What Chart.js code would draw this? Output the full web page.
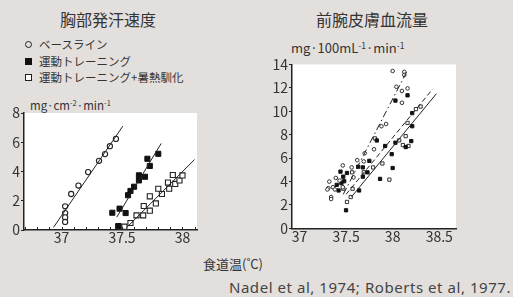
<!DOCTYPE html>
<html lang="ja">
<head>
<meta charset="UTF-8">
<title>食道温と発汗・血流</title>
<script src="https://cdn.jsdelivr.net/npm/chart.js@4.4.1/dist/chart.umd.min.js"></script>
<style>
  body { margin:0; width:513px; height:297px; background:#e3dfdc; position:relative; overflow:hidden;
         font-family:"Noto Sans CJK JP","Noto Sans",sans-serif; color:#333; }
  .t { position:absolute; white-space:nowrap; }
  canvas { position:absolute; }
  .lg { position:absolute; left:25px; font-size:11.5px; line-height:16px; display:flex; align-items:center; }
  .mk { display:inline-block; box-sizing:border-box; margin-right:7px; }
  sup { font-size:0.65em; vertical-align:0.5em; line-height:0; }
</style>
</head>
<body>
<div class="t" style="left:60px;top:9px;font-size:16px;line-height:20px;">胸部発汗速度</div>
<div class="t" style="left:316px;top:9px;font-size:16px;line-height:20px;">前腕皮膚血流量</div>

<div class="lg" style="top:36px;"><span class="mk" style="width:7px;height:7px;border:1.3px solid #222;border-radius:50%;"></span>ベースライン</div>
<div class="lg" style="top:53px;"><span class="mk" style="width:7px;height:7px;background:#111;"></span>運動トレーニング</div>
<div class="lg" style="top:69px;"><span class="mk" style="width:7px;height:7px;border:1.3px solid #222;background:#fff;"></span>運動トレーニング+暑熱馴化</div>

<div class="t" style="left:30px;top:97px;font-size:11.5px;line-height:16px;">mg·cm<sup>-2</sup>·min<sup>-1</sup></div>
<div class="t" style="left:291px;top:39px;font-size:13px;line-height:18px;">mg·100mL<sup>-1</sup>·min<sup>-1</sup></div>

<canvas id="sweat" width="205" height="150" style="left:0;top:100px;width:205px;height:150px;"></canvas>
<canvas id="flow" width="215" height="195" style="left:255px;top:55px;width:215px;height:195px;"></canvas>

<div class="t" style="left:203px;top:255px;font-size:13px;line-height:18px;">食道温(˚C)</div>
<div class="t" style="right:2px;top:277px;font-size:15px;line-height:20px;letter-spacing:0.55px;font-family:'Noto Sans',sans-serif;color:#444;">Nadel et al, 1974; Roberts et al, 1977.</div>

<script>
// 胸部発汗速度 (x: 食道温, y: mg/cm2/min)
let sweatBaseX = [37.03, 37.03, 37.03, 37.03, 37.08, 37.14, 37.22, 37.31, 37.36, 37.40, 37.45];
let sweatBaseY = [1.62, 1.16, 0.86, 0.55, 2.46, 3.04, 3.96, 4.73, 5.19, 5.73, 6.23];
let sweatTrainX = [37.42, 37.48, 37.53, 37.47, 37.55, 37.57, 37.60, 37.64, 37.64, 37.69, 37.71, 37.73, 37.80];
let sweatTrainY = [1.18, 1.46, 1.16, 0.27, 2.38, 2.67, 2.96, 3.74, 3.39, 3.64, 4.87, 4.38, 5.21];
let sweatHeatX = [37.47, 37.52, 37.57, 37.62, 37.675, 37.68, 37.73, 37.73, 37.78, 37.80, 37.83, 37.88, 37.89, 37.92, 37.94, 37.975, 38.00];
let sweatHeatY = [0.23, 0.23, 0.48, 1.0, 1.0, 1.64, 1.32, 2.3, 1.82, 2.82, 2.46, 3.24, 2.82, 3.76, 3.15, 3.39, 3.73];
// 回帰直線の両端
let sweatBaseLine = [[36.934, 0.18], [37.507, 7.1]];
let sweatTrainLine = [[37.457, 0.88], [37.824, 5.92]];
let sweatHeatLine = [[37.54, 0.18], [38.10, 4.82]];
let sweatXLabels = [37, 37.5, 38];
let sweatYTicks = [0, 2, 4, 6, 8];

// 前腕皮膚血流量 (x: 食道温, y: mL/100mL/min)
let flowBaseX = [38.00, 38.125, 38.125, 38.04, 38.10, 38.16, 38.10, 37.88, 37.93, 37.80, 37.70, 37.62, 37.69, 37.465,
  37.56, 37.39, 37.32, 37.43, 37.36, 37.31, 37.34, 37.34, 37.30, 37.38, 37.465, 37.58];
let flowBaseY = [13.44, 13.36, 13.1, 12.09, 11.73, 11.95, 10.72, 8.72, 8.91, 6.75, 6.41, 5.82, 5.71, 5.37,
  5.2, 4.30, 3.99, 4.08, 3.51, 3.43, 2.67, 2.5, 3.32, 3.32, 3.51, 4.35];
let flowTrainX = [38.16, 38.03, 38.21, 38.21, 37.83, 38.03, 38.20, 38.14, 37.92, 37.99, 37.75, 37.63, 37.68, 38.00,
  37.44, 37.51, 37.73, 37.47, 37.68, 37.865, 37.45, 37.48, 37.40, 37.42, 37.64, 37.50];
let flowTrainY = [11.36, 10.91, 9.84, 8.72, 7.5, 7.31, 7.45, 6.94, 7.03, 6.33, 5.76, 5.26, 5.2, 5.15,
  4.84, 4.73, 4.78, 4.41, 4.41, 4.22, 3.85, 4.02, 3.71, 3.23, 3.23, 1.54];
let flowHeatX = [38.25, 38.30, 38.16, 38.14, 37.81, 38.07, 38.11, 38.17, 37.79, 37.89, 37.565, 37.69, 37.965, 37.47,
  37.57, 37.55, 37.51];
let flowHeatY = [10.18, 10.40, 9.0, 7.87, 7.68, 7.51, 7.11, 7.03, 5.2, 5.54, 4.78, 4.78, 4.16, 3.38,
  3.38, 2.67, 2.25];
let flowBaseLine = [[37.47, 2.9], [38.16, 13.5]];
let flowTrainLine = [[37.50, 2.9], [38.43, 11.9]];
let flowHeatLine = [[37.56, 2.7], [38.47, 11.5]];
let flowXLabels = [37, 37.5, 38, 38.5];
let flowYTicks = [0, 2, 4, 6, 8, 10, 12, 14];

const FONT = '"Noto Sans CJK JP", "Noto Sans", sans-serif';
const pts = (xs, ys) => xs.map((x, i) => ({ x: x, y: ys[i] }));
const seg = l => l.map(p => ({ x: p[0], y: p[1] }));

// プロット領域を白く塗る
const whiteArea = {
  id: 'whiteArea',
  beforeDraw(chart) {
    const a = chart.chartArea, c = chart.ctx;
    c.save();
    c.fillStyle = '#fff';
    c.fillRect(a.left, a.top, a.right - a.left, a.bottom - a.top);
    c.restore();
  }
};
// x軸の内向き目盛り
const innerTicks = {
  id: 'innerTicks',
  afterDraw(chart, args, opts) {
    if (!opts.show) return;
    const s = chart.scales.x, c = chart.ctx;
    c.save();
    c.strokeStyle = '#222';
    c.lineWidth = 1;
    s.ticks.forEach(t => {
      const px = Math.round(s.getPixelForValue(t.value)) + 0.5;
      c.beginPath();
      c.moveTo(px, s.top);
      c.lineTo(px, s.top - 3);
      c.stroke();
    });
    c.restore();
  }
};

function lineSet(l, dash) {
  return { data: seg(l), showLine: true, pointRadius: 0, borderColor: '#222', borderWidth: 1,
    borderDash: dash, fill: false };
}

function makeChart(id, cfg) {
  return new Chart(document.getElementById(id), {
    type: 'scatter',
    data: { datasets: cfg.datasets },
    plugins: [whiteArea, innerTicks],
    options: {
      responsive: false,
      animation: false,
      layout: { padding: cfg.padding },
      plugins: { legend: { display: false }, tooltip: { enabled: false }, innerTicks: { show: cfg.innerTicks } },
      scales: {
        x: {
          type: 'linear', min: cfg.xMin, max: cfg.xMax,
          afterFit: s => { s.height = cfg.xHeight; },
          afterBuildTicks: s => {
            s.ticks = cfg.innerTicks ? cfg.minor.map(v => ({ value: v })) : cfg.xLabels.map(v => ({ value: v }));
          },
          border: { color: '#222', width: 1.5 },
          grid: { display: false, drawTicks: false, tickLength: 0 },
          ticks: {
            autoSkip: false, maxRotation: 0, padding: 1, color: '#333',
            font: { family: FONT, size: 14, lineHeight: 1 },
            callback: v => cfg.xLabels.some(l => Math.abs(l - v) < 1e-6) ? String(v) : ''
          }
        },
        y: {
          min: 0, max: cfg.yMax,
          afterFit: s => { s.width = cfg.yWidth; },
          afterBuildTicks: s => { s.ticks = cfg.yTicks.map(v => ({ value: v })); },
          border: { color: '#222', width: 1.5 },
          grid: { drawOnChartArea: false, drawTicks: true, tickLength: 3, color: '#222' },
          ticks: { padding: 1, color: '#333', font: { family: FONT, size: 14 } }
        }
      }
    }
  });
}

let minor = [];
for (let i = 367; i <= 381; i++) minor.push(i / 10);

makeChart('sweat', {
  xMin: 36.69, xMax: 38.12, yMax: 8, xHeight: 20, yWidth: 24,
  padding: { top: 13, right: 8, left: 0, bottom: 0 },
  xLabels: sweatXLabels, yTicks: sweatYTicks, innerTicks: true, minor: minor,
  datasets: [
    lineSet(sweatBaseLine, []), lineSet(sweatTrainLine, []), lineSet(sweatHeatLine, []),
    { data: pts(sweatBaseX, sweatBaseY), pointStyle: 'circle', pointRadius: 2.6, borderWidth: 1.1,
      borderColor: '#222', backgroundColor: '#fff' },
    { data: pts(sweatTrainX, sweatTrainY), pointStyle: 'rect', pointRadius: 3.6, borderWidth: 1,
      borderColor: '#111', backgroundColor: '#111' },
    { data: pts(sweatHeatX, sweatHeatY), pointStyle: 'rect', pointRadius: 3.6, borderWidth: 1.1,
      borderColor: '#222', backgroundColor: '#fff' }
  ]
});

makeChart('flow', {
  xMin: 36.92, xMax: 38.68, yMax: 14, xHeight: 21.7, yWidth: 37,
  padding: { top: 7.4, right: 14, left: 0, bottom: 0 },
  xLabels: flowXLabels, yTicks: flowYTicks, innerTicks: false, minor: [],
  datasets: [
    lineSet(flowBaseLine, [7, 3, 1.5, 3]), lineSet(flowTrainLine, [5, 3]), lineSet(flowHeatLine, []),
    { data: pts(flowBaseX, flowBaseY), pointStyle: 'circle', pointRadius: 1.8, borderWidth: 1,
      borderColor: '#333', backgroundColor: '#fff' },
    { data: pts(flowTrainX, flowTrainY), pointStyle: 'rect', pointRadius: 2.3, borderWidth: 1,
      borderColor: '#111', backgroundColor: '#111' },
    { data: pts(flowHeatX, flowHeatY), pointStyle: 'rect', pointRadius: 2.3, borderWidth: 1,
      borderColor: '#333', backgroundColor: '#fff' }
  ]
});
</script>
</body>
</html>
